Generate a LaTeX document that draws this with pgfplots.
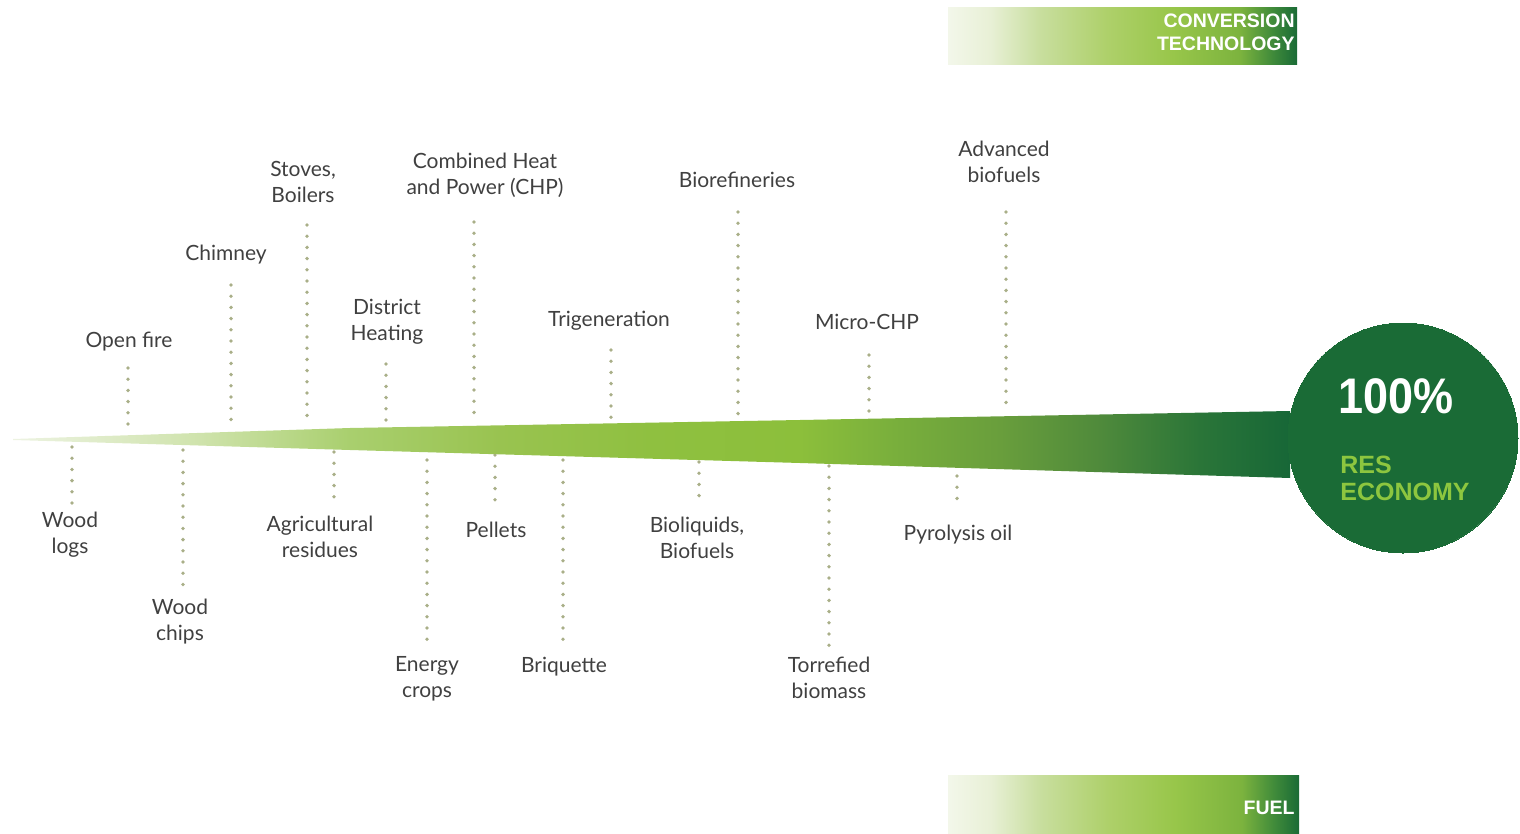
\documentclass[border=0pt]{standalone}
\usepackage{pgfplots}
\pgfplotsset{compat=1.18}
\usepackage{fontspec}
\setmainfont{Lato}
\newfontfamily\headfont{Liberation Sans}
\newfontfamily\pctfont{Liberation Sans}[FakeStretch=0.9]

\definecolor{txt}{HTML}{404040}
\definecolor{dotc}{HTML}{A9AF88}
\definecolor{dkg}{HTML}{1A6B36}
\definecolor{resg}{HTML}{8DC63F}
% wedge colour stops
\definecolor{wa}{HTML}{EDF3E2}
\definecolor{wb}{HTML}{CFE3AC}
\definecolor{wc}{HTML}{A9CF6E}
\definecolor{wd}{HTML}{99C350}
\definecolor{we}{HTML}{8FC040}
\definecolor{wf}{HTML}{8CBF3B}
\definecolor{wg}{HTML}{78AE3C}
\definecolor{wh}{HTML}{699E3C}
\definecolor{wi}{HTML}{4F8A3B}
\definecolor{wj}{HTML}{2A7538}
\definecolor{wk}{HTML}{176737}
% banner colour stops
\definecolor{b0}{HTML}{F3F7EA}
\definecolor{ba}{HTML}{E8F0D6}
\definecolor{bb}{HTML}{C8DE9E}
\definecolor{bc}{HTML}{AED06A}
\definecolor{bd}{HTML}{98C64A}
\definecolor{be}{HTML}{7CB33E}
\definecolor{bf}{HTML}{3F8A3A}
\definecolor{bg}{HTML}{1A6B36}

\pgfdeclarehorizontalshading{wedgeshade}{100bp}{color(0bp)=(wa); color(25bp)=(wa); color(32.32bp)=(wb); color(38.19bp)=(wc); color(44.07bp)=(wd); color(49.94bp)=(we); color(55.81bp)=(wf); color(59.73bp)=(wg); color(63.65bp)=(wh); color(67.56bp)=(wi); color(71.48bp)=(wj); color(75bp)=(wk); color(100bp)=(wk)}
\pgfdeclarehorizontalshading{bannershade}{100bp}{color(0bp)=(b0); color(25bp)=(b0); color(31.02bp)=(ba); color(38.18bp)=(bb); color(47.78bp)=(bc); color(57.23bp)=(bd); color(66.83bp)=(be); color(71.56bp)=(bf); color(75bp)=(bg); color(100bp)=(bg)}

\begin{document}
\begin{tikzpicture}[
  lab/.style={font=\fontsize{10.5pt}{13pt}\selectfont, text=txt, align=center, inner sep=0pt},
  dots/.style={dotc, line width=1.9pt, line cap=round, dash pattern=on 0pt off 5.6pt}
]
\begin{axis}[scale only axis, width=760pt, height=417pt,
  xmin=0, xmax=1520, ymin=0, ymax=834, y dir=reverse,
  hide axis, clip=false, clip mode=individual]
% frame for the bounding box
\addplot[draw=none] coordinates {(0,0) (1520,834)};

% banners
\addplot[draw=none, shade, shading=bannershade] coordinates {(948,8) (1297,8) (1297,65) (948,65)} -- cycle;
\addplot[draw=none, shade, shading=bannershade] coordinates {(948,775) (1299,775) (1299,834) (948,834)} -- cycle;

% dotted connectors (upper)
\addplot[dots] coordinates {(128,368) (128,425)};
\addplot[dots] coordinates {(231,285) (231,425)};
\addplot[dots] coordinates {(307,225) (307,425)};
\addplot[dots] coordinates {(386,364) (386,423)};
\addplot[dots] coordinates {(474,222) (474,421)};
\addplot[dots] coordinates {(611,350) (611,420)};
\addplot[dots] coordinates {(738,212) (738,417)};
\addplot[dots] coordinates {(869,355) (869,414)};
\addplot[dots] coordinates {(1006,212) (1006,412)};
% dotted connectors (lower)
\addplot[dots] coordinates {(72,447) (72,505)};
\addplot[dots] coordinates {(183,450) (183,593)};
\addplot[dots] coordinates {(334,452) (334,500)};
\addplot[dots] coordinates {(427,460) (427,640)};
\addplot[dots] coordinates {(495,455) (495,502)};
\addplot[dots] coordinates {(563,460) (563,640)};
\addplot[dots] coordinates {(699,462) (699,500)};
\addplot[dots] coordinates {(829,466) (829,650)};
\addplot[dots] coordinates {(957,476) (957,505)};

% wedge
\addplot[draw=none, shade, shading=wedgeshade] coordinates {(13,439) (350,428) (800,420) (1290,411) (1290,478) (800,463) (350,450) (13,440)} -- cycle;

% circle
\addplot[draw=none, dkg, only marks, mark=*, mark size=57.5pt, mark options={draw=dkg, fill=dkg, line width=0pt}] coordinates {(1403,438)};

% banner texts
\node[anchor=east, align=right, inner sep=0pt, text=white, font=\headfont\bfseries\fontsize{9.75pt}{11.5pt}\selectfont] at (axis cs:1295,32) {CONVERSION\\TECHNOLOGY};
\node[anchor=east, inner sep=0pt, text=white, font=\headfont\bfseries\fontsize{9.75pt}{11.5pt}\selectfont] at (axis cs:1295,808) {FUEL};

% circle texts
\node[anchor=west, inner sep=0pt, text=white, font=\pctfont\bfseries\fontsize{25pt}{28pt}\selectfont] at (axis cs:1338,396) {100\%};
\node[anchor=west, align=left, inner sep=0pt, text=resg, font=\headfont\bfseries\fontsize{12.5pt}{13.5pt}\selectfont] at (axis cs:1340,478) {RES\\ECONOMY};

% upper labels
\node[lab] at (axis cs:129,342) {Open fire};
\node[lab] at (axis cs:226,255) {Chimney};
\node[lab] at (axis cs:303,182) {Stoves,\\Boilers};
\node[lab] at (axis cs:387,322) {District\\Heating};
\node[lab] at (axis cs:485,175) {Combined Heat\\and Power (CHP)};
\node[lab] at (axis cs:609,321) {Trigeneration};
\node[lab] at (axis cs:737,180) {Biorefineries};
\node[lab] at (axis cs:867,322) {Micro-CHP};
\node[lab] at (axis cs:1004,162) {Advanced\\biofuels};
% lower labels
\node[lab] at (axis cs:70,535) {Wood\\logs};
\node[lab] at (axis cs:180,622) {Wood\\chips};
\node[lab] at (axis cs:320,537) {Agricultural\\residues};
\node[lab] at (axis cs:427,679) {Energy\\crops};
\node[lab] at (axis cs:496,530) {Pellets};
\node[lab] at (axis cs:564,667) {Briquette};
\node[lab] at (axis cs:697,538) {Bioliquids,\\Biofuels};
\node[lab] at (axis cs:829,678) {Torrefied\\biomass};
\node[lab] at (axis cs:958,535) {Pyrolysis oil};
\end{axis}
\end{tikzpicture}
\end{document}
